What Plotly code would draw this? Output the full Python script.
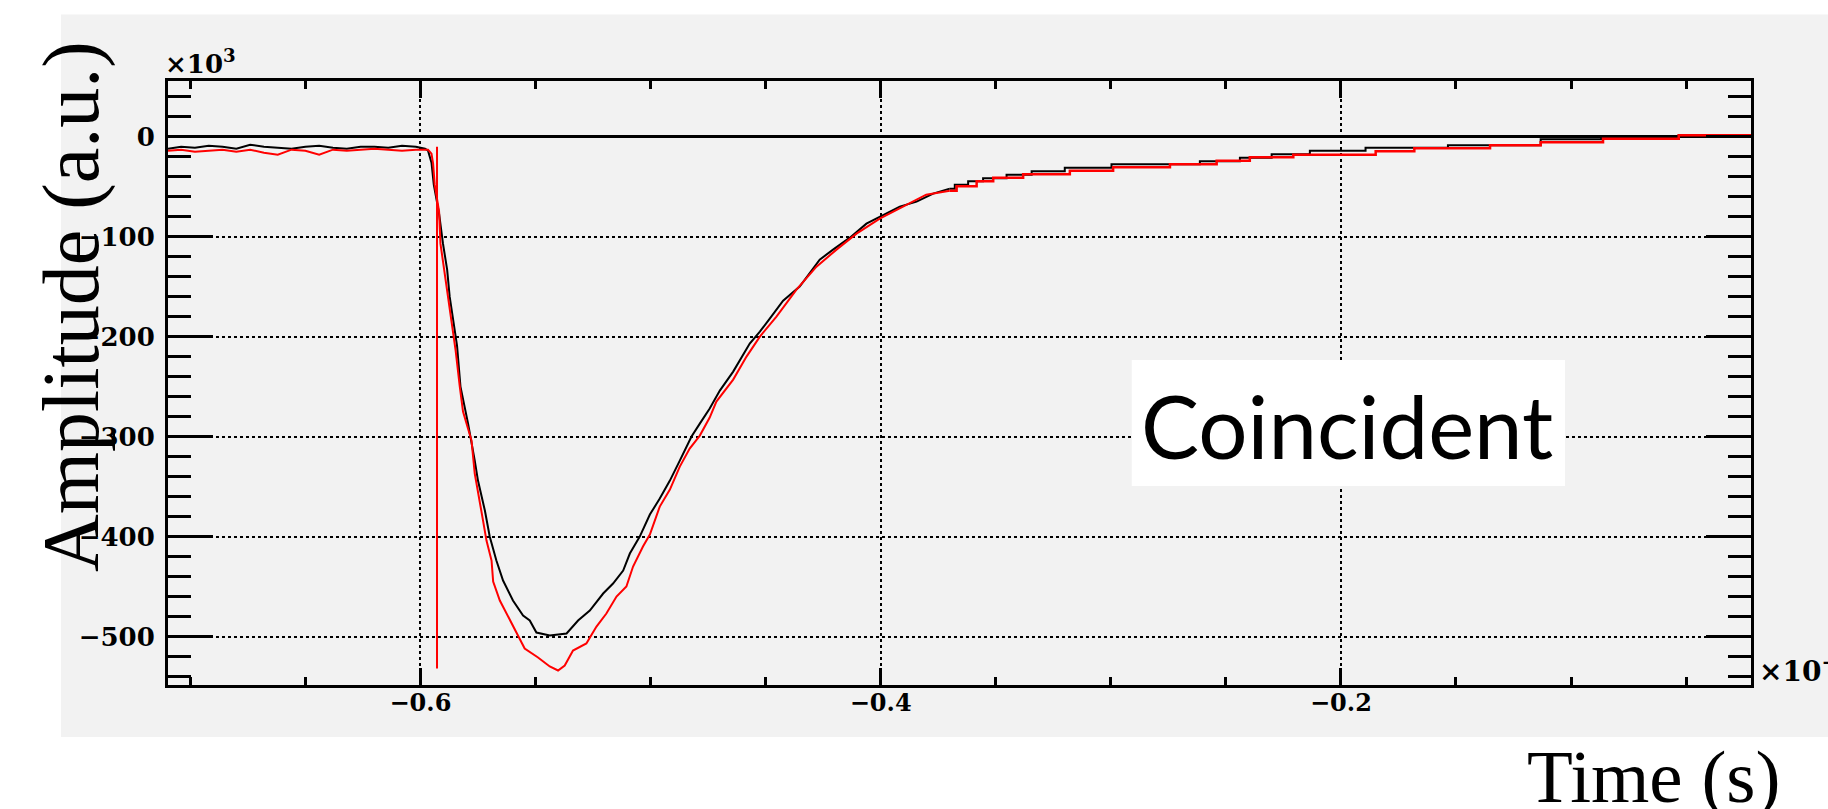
import plotly.graph_objects as go

# ---- waveform samples (time in units of the x-axis multiplier, amplitude in 1e3 a.u.) ----
black_t = [-0.7097, -0.704, -0.698, -0.692, -0.686, -0.680, -0.674, -0.668, -0.662, -0.656,
           -0.650, -0.644, -0.638, -0.632, -0.626, -0.620, -0.614, -0.608, -0.602, -0.598,
           -0.5967, -0.5952, -0.5942, -0.5919, -0.5902, -0.5884, -0.5873, -0.5858, -0.5841, -0.5826,
           -0.5807, -0.5793, -0.5764, -0.5750, -0.5720, -0.5699, -0.5670, -0.5641, -0.5598, -0.5554,
           -0.5525, -0.5496, -0.5438, -0.5365, -0.5315, -0.5264, -0.5206, -0.5163, -0.5119, -0.5090,
           -0.5047, -0.5003, -0.4960, -0.4916, -0.4873, -0.4822, -0.4786, -0.4743, -0.4699, -0.4641,
           -0.4569, -0.4525, -0.4482, -0.4424, -0.4352, -0.4265, -0.4207, -0.4134, -0.4062, -0.4004,
           -0.3917, -0.3844, -0.3772, -0.3700]
black_amp = [-12, -10, -11, -9, -10, -12, -8, -10, -11, -12,
             -10, -9, -11, -12, -10, -10, -11, -9, -10, -12,
             -14, -26, -48, -77, -107, -133, -160, -184, -209, -250,
             -270, -287, -324, -344, -374, -400, -424, -444, -464, -479,
             -484, -496, -499, -497, -484, -474, -457, -447, -434, -417,
             -400, -378, -362, -344, -324, -300, -287, -272, -254, -235,
             -207, -195, -182, -164, -150, -123, -113, -101, -87, -80,
             -70, -65, -57, -52]

black_tail_t = [-0.3700, -0.3678, -0.3620, -0.3555, -0.3453, -0.3344, -0.3200, -0.2997, -0.2613,
                -0.2439, -0.2301, -0.2135, -0.1893, -0.1535, -0.1132, -0.0869, -0.0532, -0.0218]
black_tail_amp = [-52, -48, -44.5, -41.5, -38, -34.5, -31, -27.5, -24.5,
                  -21, -17.5, -14, -11, -8.5, -2.5, -2, 1.5, 1.5]

red_t = [-0.7097, -0.704, -0.698, -0.692, -0.686, -0.680, -0.674, -0.668, -0.662, -0.656,
         -0.650, -0.644, -0.638, -0.632, -0.626, -0.620, -0.614, -0.608, -0.602, -0.598,
         -0.5967, -0.5952, -0.5945, -0.5938, -0.5919, -0.5913, -0.5894, -0.5876, -0.5863, -0.5847,
         -0.5829, -0.5815, -0.5778, -0.5764, -0.5728, -0.5713, -0.5691, -0.5684, -0.5655, -0.5626,
         -0.5583, -0.5547, -0.5489, -0.5438, -0.5402, -0.5373, -0.5337, -0.5279, -0.5235, -0.5192,
         -0.5148, -0.5105, -0.5076, -0.5033, -0.5003, -0.4960, -0.4916, -0.4873, -0.4830, -0.4786,
         -0.4743, -0.4714, -0.4641, -0.4583, -0.4525, -0.4453, -0.4366, -0.4279, -0.4192, -0.4105,
         -0.4004, -0.3903, -0.3802, -0.3700]
red_amp = [-14, -13, -15, -14, -13, -15, -13, -16, -18, -13,
           -14, -18, -13, -14, -13, -12, -13, -14, -13, -13,
           -13, -17, -27, -48, -75, -107, -138, -164, -190, -214,
           -250, -275, -304, -337, -384, -404, -424, -445, -464, -477,
           -497, -512, -521, -530, -534, -529, -514, -507, -490, -477,
           -460, -450, -430, -410, -398, -370, -353, -330, -312, -299,
           -281, -265, -243, -220, -200, -180, -153, -130, -113, -97,
           -82, -70, -58, -54]

red_tail_t = [-0.3700, -0.3670, -0.3583, -0.3511, -0.3381, -0.3178, -0.2990, -0.2743, -0.2540,
              -0.2396, -0.2207, -0.1849, -0.1681, -0.1352, -0.1132, -0.0861, -0.0532, -0.0218]
red_tail_amp = [-54, -49.5, -44.5, -41, -37.5, -34, -30.5, -27.5, -24,
                -20.5, -18, -14.5, -11.5, -8.5, -5.5, -2, 1.5, 1.5]

# vertical trigger marker on the red channel
marker_t = [-0.5928, -0.5928]
marker_amp = [-10, -532]

x_range = [-0.7097, -0.0218]
y_range = [-548.5, 55.7]

TICK_FONT = "DejaVu Serif"
TITLE_FONT = "Liberation Serif"

fig = go.Figure()
fig.add_trace(go.Scatter(x=black_t, y=black_amp, mode="lines",
                         line=dict(color="black", width=2)))
fig.add_trace(go.Scatter(x=black_tail_t, y=black_tail_amp, mode="lines",
                         line=dict(color="black", width=2, shape="hv")))
fig.add_trace(go.Scatter(x=red_t, y=red_amp, mode="lines",
                         line=dict(color="#ff0000", width=2)))
fig.add_trace(go.Scatter(x=red_tail_t, y=red_tail_amp, mode="lines",
                         line=dict(color="#ff0000", width=2.5, shape="hv")))
fig.add_trace(go.Scatter(x=marker_t, y=marker_amp, mode="lines",
                         line=dict(color="#ff0000", width=2)))

axis_common = dict(
    showline=True, linecolor="black", linewidth=3, mirror="ticks",
    ticks="inside", tickcolor="black", tickwidth=2.5,
    showgrid=True, gridcolor="black", gridwidth=2, griddash="dot",
    zeroline=False,
)

fig.update_xaxes(
    **axis_common,
    range=x_range, tick0=0, dtick=0.2, ticklen=17,
    minor=dict(dtick=0.05, ticks="inside", ticklen=8, tickcolor="black",
               tickwidth=2.5, showgrid=False),
    tickfont=dict(family=TICK_FONT, size=24, color="black", weight="bold"),
    ticklabelstandoff=-6,
)
fig.update_yaxes(
    **axis_common,
    range=y_range, tick0=0, dtick=100, ticklen=45,
    minor=dict(dtick=20, ticks="inside", ticklen=23, tickcolor="black",
               tickwidth=2.5, showgrid=False),
    tickfont=dict(family=TICK_FONT, size=26, color="black", weight="bold"),
    ticklabelstandoff=5,
)
fig.update_yaxes(zeroline=True, zerolinecolor="black", zerolinewidth=2.5)

fig.update_layout(
    width=1828, height=809,
    margin=dict(l=168, r=77, t=81, b=124),
    paper_bgcolor="white", plot_bgcolor="#f2f2f2",
    showlegend=False,
    shapes=[
        # canvas panel behind the frame
        dict(type="rect", xref="paper", yref="paper", layer="below",
             x0=-0.0676, x1=1.07, y0=-0.0861, y1=1.1103,
             fillcolor="#f2f2f2", line=dict(width=0)),
        # label box
        dict(type="rect", xref="paper", yref="paper", layer="above",
             x0=0.6088, x1=0.8825, y0=0.3295, y1=0.5381,
             fillcolor="white", line=dict(width=0)),
    ],
    annotations=[
        dict(text="Coincident", xref="paper", yref="paper", x=0.7448, y=0.4296,
             xanchor="center", yanchor="middle", showarrow=False,
             font=dict(family="Lato", size=87, color="black")),
        dict(text="Amplitude (a.u.)", xref="paper", yref="paper", x=-0.0606, y=0.626,
             xanchor="center", yanchor="middle", textangle=-90, showarrow=False,
             font=dict(family=TITLE_FONT, size=80, color="black")),
        dict(text="Time (s)", xref="paper", yref="paper", x=0.939, y=-0.1517,
             xanchor="center", yanchor="middle", showarrow=False,
             font=dict(family=TITLE_FONT, size=75, color="black")),
        dict(text="×10<sup>3</sup>", xref="paper", yref="paper", x=-0.003, y=1.0,
             xanchor="left", yanchor="bottom", showarrow=False,
             font=dict(family=TICK_FONT, size=26, color="black", weight="bold")),
        dict(text="×10<sup>−6</sup>", xref="paper", yref="paper", x=1.004, y=-0.008,
             xanchor="left", yanchor="bottom", showarrow=False,
             font=dict(family=TICK_FONT, size=28, color="black", weight="bold")),
    ],
)

fig.write_html("out.html")
